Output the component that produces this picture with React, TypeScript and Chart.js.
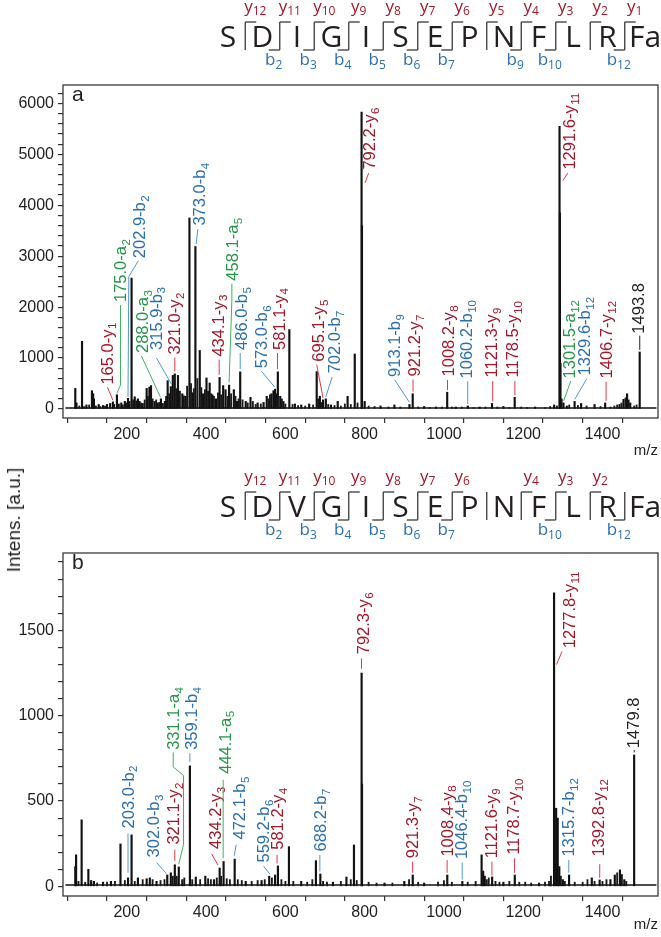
import React, { useEffect, useRef } from 'react';
import { Chart, registerables } from 'chart.js';

Chart.register(...registerables);

const FONT = '"Liberation Sans", Arial, Helvetica, sans-serif';
const SEQ_FONT = '"Open Sans", "Noto Sans", sans-serif';

// ---------------- axis ticks ----------------
const xTickValues = [100, 200, 300, 400, 500, 600, 700, 800, 900, 1000, 1100, 1200, 1300, 1400, 1500];
const xTickLabels = ['', '200', '', '400', '', '600', '', '800', '', '1000', '', '1200', '', '1400', ''];
const yTickValuesA = [0, 200, 400, 600, 800, 1000, 1200, 1400, 1600, 1800, 2000, 2200, 2400, 2600, 2800, 3000, 3200, 3400, 3600, 3800, 4000, 4200, 4400, 4600, 4800, 5000, 5200, 5400, 5600, 5800, 6000, 6200];
const yTickLabelsA = ['0', '', '', '', '', '1000', '', '', '', '', '2000', '', '', '', '', '3000', '', '', '', '', '4000', '', '', '', '', '5000', '', '', '', '', '6000', ''];
const yTickValuesB = [0, 100, 200, 300, 400, 500, 600, 700, 800, 900, 1000, 1100, 1200, 1300, 1400, 1500, 1600, 1700, 1800, 1900];
const yTickLabelsB = ['0', '', '', '', '', '500', '', '', '', '', '1000', '', '', '', '', '1500', '', '', '', ''];

// ---------------- spectrum a ----------------
const mzA = [70, 73, 87, 98, 112, 115, 117, 129, 140, 150, 158, 165, 175, 186, 195, 203, 212, 220, 228, 232, 240, 250, 257, 261, 270, 278, 286, 296, 303, 311, 316, 321, 329, 340, 348, 358, 366, 373, 384, 392, 401, 409, 416, 425, 434, 443, 449, 458, 470, 478, 486, 500, 512, 530, 545, 553, 565, 570, 574, 581, 587, 595, 610, 624, 640, 660, 679, 687, 695, 702, 715, 732, 757, 775, 792.2, 793.2, 800, 840, 875, 913, 921.2, 950, 980, 1008.2, 1030, 1060.2, 1090, 1121.3, 1150, 1178.5, 1230, 1278, 1291.6, 1292.6, 1294, 1301.5, 1310, 1329.6, 1346, 1380, 1406.7, 1443, 1453, 1462, 1470, 1493.8];
const intA = [405, 120, 1330, 80, 360, 300, 200, 90, 70, 90, 110, 140, 280, 120, 150, 210, 2570, 240, 200, 150, 110, 405, 430, 460, 150, 120, 200, 150, 557, 440, 660, 690, 660, 300, 250, 3750, 320, 3190, 1150, 300, 610, 510, 280, 200, 620, 460, 380, 470, 380, 150, 730, 150, 230, 120, 130, 250, 300, 360, 390, 730, 250, 150, 1560, 100, 80, 100, 735, 250, 180, 200, 80, 150, 250, 1080, 5830, 3600, 150, 60, 80, 90, 300, 50, 40, 330, 40, 60, 40, 110, 50, 230, 40, 80, 5550, 3850, 900, 120, 60, 150, 110, 90, 120, 90, 190, 300, 120, 1120];
// small background peaks (noise) of spectrum a
const noiseMzA = [80, 92, 105, 122, 133, 145, 168, 180, 190, 199, 207, 216, 224, 236, 245, 253, 265, 274, 282, 291, 299, 307, 325, 334, 344, 352, 362, 369, 378, 388, 397, 405, 413, 420, 430, 438, 454, 463, 474, 482, 492, 505, 518, 525, 538, 558, 561, 578, 591, 600, 618, 632, 650, 670, 683, 691, 708, 724, 740, 750, 765, 782, 810, 825, 860, 890, 935, 965, 995, 1020, 1045, 1075, 1105, 1135, 1165, 1195, 1210, 1255, 1268, 1285, 1297, 1316, 1338, 1360, 1395, 1420, 1430, 1437, 1448, 1458, 1466, 1480, 1486];
const noiseIntA = [60, 50, 80, 60, 50, 60, 90, 100, 80, 120, 150, 180, 160, 120, 180, 250, 200, 180, 130, 110, 250, 300, 400, 350, 260, 450, 500, 400, 600, 420, 380, 350, 300, 250, 320, 280, 250, 300, 250, 200, 180, 120, 150, 90, 100, 200, 280, 300, 200, 100, 90, 70, 60, 80, 200, 130, 90, 70, 60, 100, 90, 120, 60, 50, 40, 40, 40, 30, 40, 40, 40, 30, 40, 40, 30, 40, 30, 30, 50, 60, 200, 80, 70, 60, 50, 40, 60, 80, 120, 220, 180, 60, 80];
const baselineA = [[45, 20], [1536, 20]];

// ---------------- spectrum b ----------------
const mzB = [70, 72, 86, 103, 110, 117, 140, 160, 184, 203, 212, 228, 250, 258, 275, 302, 311, 321.1, 331.1, 340, 359.1, 374, 398, 420, 434.2, 444.1, 472.1, 500, 540, 559.2, 574, 581.2, 609, 640, 677, 688.2, 720, 754, 773, 792.3, 793.3, 850, 900, 921.3, 950, 1008.4, 1046.4, 1095, 1099, 1103, 1121.6, 1150, 1178.7, 1240, 1277.8, 1283, 1287, 1291, 1300, 1315.7, 1373, 1392.8, 1420, 1431, 1444, 1455, 1479.8];
const intB = [116, 185, 390, 100, 35, 30, 25, 30, 249, 50, 302, 50, 45, 50, 30, 67, 80, 127, 114, 40, 706, 55, 60, 40, 108, 146, 160, 30, 35, 60, 67, 120, 233, 30, 151, 73, 25, 55, 243, 1250, 600, 20, 30, 67, 20, 67, 30, 185, 90, 60, 56, 25, 67, 20, 1720, 458, 400, 116, 40, 67, 50, 38, 40, 67, 97, 40, 770];
const noiseMzB = [78, 95, 125, 150, 170, 195, 220, 240, 265, 285, 295, 316, 326, 345, 365, 385, 405, 412, 427, 438, 452, 460, 480, 490, 515, 530, 548, 566, 590, 600, 620, 655, 668, 695, 705, 740, 765, 780, 810, 830, 870, 912, 935, 985, 1000, 1020, 1060, 1080, 1108, 1113, 1130, 1140, 1165, 1190, 1205, 1220, 1255, 1265, 1270, 1295, 1305, 1330, 1350, 1362, 1380, 1400, 1410, 1437, 1449, 1460];
const noiseIntB = [30, 25, 20, 25, 30, 35, 30, 40, 40, 35, 40, 60, 60, 50, 40, 40, 45, 40, 50, 60, 45, 40, 40, 35, 30, 35, 40, 50, 40, 30, 30, 25, 40, 30, 25, 30, 40, 35, 25, 20, 20, 40, 25, 25, 35, 25, 25, 30, 40, 50, 30, 25, 30, 25, 25, 20, 25, 30, 60, 60, 30, 25, 25, 40, 30, 30, 40, 80, 70, 30];
const baselineB = [[45, 8], [1536, 8]];

// ---------------- annotations (label text, subscript, ion type) ----------------
const annTextA = ['165.0-y', '175.0-a', '202.9-b', '288.0-a', '315.9-b', '321.0-y', '373.0-b', '434.1-y', '458.1-a', '486.0-b', '573.0-b', '581.1-y', '695.1-y', '702.0-b', '792.2-y', '913.1-b', '921.2-y', '1008.2-y', '1060.2-b', '1121.3-y', '1178.5-y', '1291.6-y', '1301.5-a', '1329.6-b', '1406.7-y', '1493.8'];
const annSubA = ['1', '2', '2', '3', '3', '2', '4', '3', '5', '5', '6', '4', '5', '7', '6', '9', '7', '8', '10', '9', '10', '11', '12', '12', '12', ''];
const annIonA = ['y', 'a', 'b', 'a', 'b', 'y', 'b', 'y', 'a', 'b', 'b', 'y', 'y', 'b', 'y', 'b', 'y', 'y', 'b', 'y', 'y', 'y', 'a', 'b', 'y', 'p'];
// label anchor (m/z, intensity where the rotated text starts) and leader lines — layout
const annPosA = [[149, 480], [184, 2100], [232, 2960], [238, 1100], [273, 1160], [319, 1070], [382, 3600], [429, 1030], [466, 2520], [489, 1160], [538, 800], [583, 1160], [683, 930], [724, 700], [811, 4700], [874, 630], [925, 640], [1011, 640], [1056, 600], [1120, 620], [1173, 620], [1315, 4700], [1316, 600], [1353, 660], [1410, 600], [1490, 1480]];
const annLeadA = [
  [[151, 430], [165, 170]],
  [[184, 2040], [184, 470], [175, 310]],
  [[229, 2910], [205, 2600], [203, 240]],
  [[237, 1040], [285, 230]],
  [[275, 1000], [313, 480]],
  [[321, 1010], [321, 740]],
  [[379, 3530], [375, 3240]],
  [[433, 970], [433, 670]],
  [[465, 2460], [465, 2140], [458, 520]],
  [[486, 1100], [486, 780]],
  [[540, 740], [573, 430]],
  [[580, 1100], [580, 780]],
  [[679, 870], [695, 220]],
  [[718, 630], [702, 240]],
  [[801, 4440], [810, 4630]],
  [[876, 570], [913, 130]],
  [[922, 580], [922, 340]],
  [[1009, 570], [1009, 370]],
  [[1060, 540], [1060, 100]],
  [[1123, 550], [1123, 150]],
  [[1179, 550], [1179, 270]],
  [[1300, 4480], [1312, 4630]],
  [[1320, 550], [1302, 160]],
  [[1360, 590], [1330, 190]],
  [[1409, 540], [1409, 160]],
  [[1494, 1440], [1494, 1160]],
];

const annTextB = ['203.0-b', '302.0-b', '321.1-y', '331.1-a', '359.1-b', '434.2-y', '444.1-a', '472.1-b', '559.2-b', '581.2-y', '688.2-b', '792.3-y', '921.3-y', '1008.4-y', '1046.4-b', '1121.6-y', '1178.7-y', '1277.8-y', '1315.7-b', '1392.8-y', '1479.8'];
const annSubB = ['2', '3', '2', '4', '4', '3', '5', '5', '6', '4', '7', '6', '7', '8', '10', '9', '10', '11', '12', '12', ''];
const annIonB = ['b', 'b', 'y', 'a', 'b', 'y', 'a', 'b', 'b', 'y', 'b', 'y', 'y', 'y', 'b', 'y', 'y', 'y', 'b', 'y', 'p'];
const annPosB = [[202, 340], [266, 170], [316, 245], [316, 800], [362, 800], [422, 220], [447, 660], [484, 275], [544, 140], [580, 215], [687, 205], [797, 1360], [919, 165], [1007, 175], [1043, 160], [1118, 165], [1175, 185], [1315, 1395], [1314, 175], [1390, 175], [1476, 810]];
const annLeadB = [
  [[203, 310], [203, 80]],
  [[275, 140], [300, 75]],
  [[321, 215], [321, 150]],
  [[317, 785], [317, 700], [343, 650], [343, 245], [331, 130]],
  [[359, 780], [359, 730]],
  [[414, 190], [430, 125]],
  [[443, 625], [443, 165]],
  [[476, 245], [471, 180]],
  [[545, 118], [561, 72]],
  [[579, 185], [579, 135]],
  [[687, 185], [687, 88]],
  [[792, 1335], [792, 1275]],
  [[921, 145], [921, 80]],
  [[1008, 155], [1008, 80]],
  [[1046, 140], [1046, 40]],
  [[1121, 145], [1121, 65]],
  [[1178, 165], [1178, 80]],
  [[1284, 1300], [1298, 1376]],
  [[1315, 155], [1315, 80]],
  [[1393, 130], [1393, 50]],
  [[1480, 800], [1480, 785]],
];

// ---------------- sequence ladders ----------------
const seqA = ['S', 'D', 'I', 'G', 'I', 'S', 'E', 'P', 'N', 'F', 'L', 'R', 'Fa'];
const yObsA = [12, 11, 10, 9, 8, 7, 6, 5, 4, 3, 2, 1];
const bObsA = [2, 3, 4, 5, 6, 7, 9, 10, 12];
const seqB = ['S', 'D', 'V', 'G', 'I', 'S', 'E', 'P', 'N', 'F', 'L', 'R', 'Fa'];
const yObsB = [12, 11, 10, 9, 8, 7, 6, 4, 3, 2];
const bObsB = [2, 3, 4, 5, 6, 7, 10, 12];

const ION = {
  y: { text: '#a3172b', line: '#e0394a' },
  b: { text: '#2a6fb0', line: '#4f97cf' },
  a: { text: '#25964a', line: '#3fb060' },
  p: { text: '#222222', line: '#222222' },
};

const LABEL_SIZE = 16.5;
const SUB_SIZE = 11.5;
const TICK_SIZE = 16;

function drawLadder(ctx, seq, yObs, bObs, top) {
  const x0 = 228, step = 34.5;
  ctx.save();
  ctx.fillStyle = '#231f20';
  ctx.font = `30px ${SEQ_FONT}`;
  ctx.textAlign = 'center';
  ctx.textBaseline = 'alphabetic';
  seq.forEach((r, i) => ctx.fillText(r, x0 + i * step + (r.length > 1 ? 3 : 0), top + 47));
  ctx.strokeStyle = '#3a3a3a';
  ctx.lineWidth = 1.3;
  for (let i = 0; i < seq.length - 1; i++) {
    const cx = x0 + step / 2 + i * step;
    const yn = 12 - i, bn = i + 1;
    const hasY = yObs.includes(yn), hasB = bObs.includes(bn);
    ctx.beginPath();
    ctx.moveTo(cx, top + 22);
    ctx.lineTo(cx, top + 50);
    ctx.stroke();
    ctx.textAlign = 'left';
    if (hasY) {
      ctx.beginPath(); ctx.moveTo(cx, top + 22); ctx.lineTo(cx + 11, top + 22); ctx.stroke();
      ctx.fillStyle = ION.y.text;
      ctx.font = `17px ${SEQ_FONT}`;
      const w = ctx.measureText('y').width;
      ctx.font = `12px ${SEQ_FONT}`;
      const sw = ctx.measureText(String(yn)).width;
      const sx = cx + 10 - (w + sw) / 2;
      ctx.font = `17px ${SEQ_FONT}`;
      ctx.fillText('y', sx, top + 12);
      ctx.font = `12px ${SEQ_FONT}`;
      ctx.fillText(String(yn), sx + w, top + 15);
    }
    if (hasB) {
      ctx.beginPath(); ctx.moveTo(cx, top + 50); ctx.lineTo(cx - 11, top + 50); ctx.stroke();
      ctx.fillStyle = ION.b.text;
      ctx.font = `17px ${SEQ_FONT}`;
      const w = ctx.measureText('b').width;
      ctx.font = `12px ${SEQ_FONT}`;
      const sw = ctx.measureText(String(bn)).width;
      const sx = cx - 6 - (w + sw) / 2;
      ctx.font = `17px ${SEQ_FONT}`;
      ctx.fillText('b', sx, top + 65);
      ctx.font = `12px ${SEQ_FONT}`;
      ctx.fillText(String(bn), sx + w, top + 69);
    }
  }
  ctx.restore();
}

function makePlugin(panel) {
  return {
    id: 'deco' + panel.letter,
    afterDatasetsDraw(chart) {
      const { ctx, chartArea } = chart;
      const xs = chart.scales.x, ys = chart.scales.y;
      ctx.save();
      ctx.strokeStyle = '#3a3a3a';
      ctx.lineWidth = 1.3;
      ctx.strokeRect(chartArea.left, chartArea.top, chartArea.right - chartArea.left, chartArea.bottom - chartArea.top);
      ctx.fillStyle = '#222';
      ctx.font = `21px ${FONT}`;
      ctx.textAlign = 'left';
      ctx.textBaseline = 'alphabetic';
      ctx.fillText(panel.letter, chartArea.left + 9, chartArea.top + 16);
      panel.texts.forEach((t, i) => {
        const col = ION[panel.ions[i]];
        ctx.strokeStyle = col.line;
        ctx.lineWidth = 1;
        ctx.beginPath();
        panel.leads[i].forEach((p, j) => {
          const X = xs.getPixelForValue(p[0]);
          const Y = ys.getPixelForValue(p[1]);
          if (j === 0) ctx.moveTo(X, Y); else ctx.lineTo(X, Y);
        });
        ctx.stroke();
        const X = xs.getPixelForValue(panel.pos[i][0]);
        const Y = ys.getPixelForValue(panel.pos[i][1]);
        ctx.save();
        ctx.translate(X, Y);
        ctx.rotate(-Math.PI / 2);
        ctx.fillStyle = col.text;
        ctx.font = `${LABEL_SIZE}px ${FONT}`;
        ctx.textAlign = 'left';
        ctx.fillText(t, 0, LABEL_SIZE * 0.36);
        const w = ctx.measureText(t).width;
        if (panel.subs[i]) {
          ctx.font = `${SUB_SIZE}px ${FONT}`;
          ctx.fillText(panel.subs[i], w + 0.5, LABEL_SIZE * 0.36 + 3.8);
        }
        ctx.restore();
      });
      ctx.restore();
      drawLadder(ctx, panel.seq, panel.yObs, panel.bObs, panel.ladderTop);
    },
  };
}

function buildConfig(panel) {
  return {
    type: 'bar',
    data: {
      datasets: [
        {
          type: 'line',
          data: panel.baseline.map((p) => ({ x: p[0], y: p[1] })),
          borderColor: '#111',
          borderWidth: 1.6,
          pointRadius: 0,
          order: 3,
        },
        {
          type: 'bar',
          data: panel.noiseMz.map((m, i) => ({ x: m, y: panel.noiseInt[i] })),
          backgroundColor: '#1a1a1a',
          borderWidth: 0,
          barThickness: 1.2,
          grouped: false,
          order: 2,
        },
        {
          type: 'bar',
          data: panel.mz.map((m, i) => ({ x: m, y: panel.int[i] })),
          backgroundColor: '#111',
          borderWidth: 0,
          barThickness: 1.5,
          grouped: false,
          order: 1,
        },
      ],
    },
    options: {
      responsive: false,
      animation: false,
      events: [],
      layout: { padding: { top: panel.top, right: 3, left: 0, bottom: 0 } },
      plugins: { legend: { display: false }, tooltip: { enabled: false } },
      scales: {
        x: {
          type: 'linear',
          offset: false,
          min: 39,
          max: 1540,
          afterBuildTicks: (s) => { s.ticks = xTickValues.map((v) => ({ value: v })); },
          afterFit: (s) => { s.height = panel.xAxisH; },
          ticks: {
            autoSkip: false,
            maxRotation: 0,
            padding: 2,
            color: '#222',
            font: { family: FONT, size: TICK_SIZE },
            callback: (v, i) => xTickLabels[i],
          },
          grid: { drawOnChartArea: false, drawTicks: true, tickLength: 5, color: '#333', lineWidth: 1.2 },
          border: { display: false },
          title: {
            display: true,
            text: 'm/z',
            align: 'end',
            color: '#222',
            font: { family: FONT, size: 15 },
            padding: { top: 0, bottom: panel.titlePad },
          },
        },
        y: {
          type: 'linear',
          min: panel.ymin,
          max: panel.ymax,
          afterBuildTicks: (s) => { s.ticks = panel.yTicks.map((v) => ({ value: v })); },
          afterFit: (s) => { s.width = 63; },
          ticks: {
            autoSkip: false,
            padding: 4,
            color: '#222',
            font: { family: FONT, size: TICK_SIZE },
            callback: (v, i) => panel.yLabels[i],
          },
          grid: { drawOnChartArea: false, drawTicks: true, tickLength: 5, color: '#333', lineWidth: 1.2 },
          border: { display: false },
        },
      },
    },
    plugins: [makePlugin(panel)],
  };
}

const panelA = {
  letter: 'a', mz: mzA, int: intA, noiseMz: noiseMzA, noiseInt: noiseIntA, baseline: baselineA,
  texts: annTextA, subs: annSubA, ions: annIonA, pos: annPosA, leads: annLeadA,
  seq: seqA, yObs: yObsA, bObs: bObsA, ladderTop: 0,
  top: 85, xAxisH: 47, titlePad: 5, ymin: -176, ymax: 6360,
  yTicks: yTickValuesA, yLabels: yTickLabelsA, h: 465,
};
const panelB = {
  letter: 'b', mz: mzB, int: intB, noiseMz: noiseMzB, noiseInt: noiseIntB, baseline: baselineB,
  texts: annTextB, subs: annSubB, ions: annIonB, pos: annPosB, leads: annLeadB,
  seq: seqB, yObs: yObsB, bObs: bObsB, ladderTop: 5,
  top: 88, xAxisH: 41, titlePad: 3, ymin: -56, ymax: 1953,
  yTicks: yTickValuesB, yLabels: yTickLabelsB, h: 472,
};

function Panel({ panel, top }) {
  const ref = useRef(null);
  useEffect(() => {
    const chart = new Chart(ref.current, buildConfig(panel));
    return () => chart.destroy();
  }, []);
  return (
    <canvas
      ref={ref}
      width={661}
      height={panel.h}
      style={{ position: 'absolute', left: 0, top, width: 661, height: panel.h }}
    />
  );
}

export default function App() {
  return (
    <div style={{ position: 'absolute', left: 0, top: 0, width: 661, height: 937, background: '#fff', overflow: 'hidden' }}>
      <Panel panel={panelA} top={0} />
      <Panel panel={panelB} top={465} />
      <div
        style={{
          position: 'absolute', left: 14, top: 520, transform: 'translate(-50%, -50%) rotate(-90deg)',
          fontFamily: FONT, fontSize: 19, color: '#222', whiteSpace: 'nowrap',
        }}
      >
        Intens. [a.u.]
      </div>
    </div>
  );
}
